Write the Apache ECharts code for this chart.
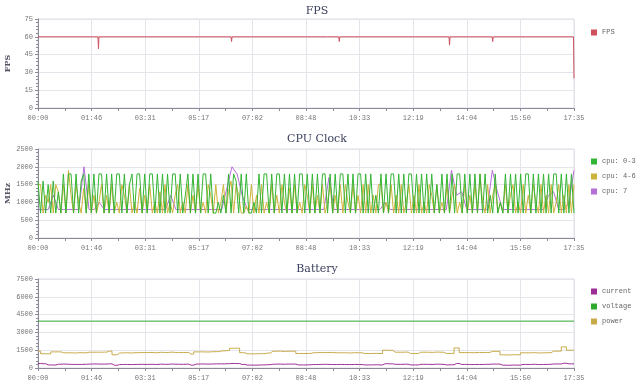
<!DOCTYPE html>
<html><head><meta charset="utf-8">
<script src="https://cdn.jsdelivr.net/npm/echarts@6/dist/echarts.min.js"></script>
<style>html,body{margin:0;padding:0;background:#fff}#c{width:640px;height:388px}</style>
</head><body><div id="c"></div>
<script>
// ---- data ----
const totalSeconds = 1055;
const tickLabels = ['00:00','01:46','03:31','05:17','07:02','08:48','10:33','12:19','14:04','15:50','17:35'];

const fpsTime = [0,118,119,120,380,381,382,570,571,572,592,593,594,809,810,811,894,895,896,1054,1055];
const fpsValues = [60,60,50,60,60,56,60,60,59,60,60,56,60,60,53,60,60,56,60,60,25];

const cpu03 = [
 1600,700,1600,700,1500,700,1600,700,1300,700,
 1800,700,1800,1800,700,1800,700,1600,1800,700,
 1800,700,1800,700,1800,1800,700,1800,700,1800,
 700,1800,1800,700,1800,700,1500,1800,700,1800,
 1800,700,1800,700,1800,1800,700,1800,700,1800,
 700,1800,700,1800,1800,700,1800,700,1200,1800,
 700,1800,700,1800,700,1800,1800,700,1800,700,
 700,1000,700,1200,700,1800,700,1800,1600,700,
 1800,700,1800,700,700,1000,700,1800,700,1800,
 1800,700,1800,700,1800,1800,700,1800,700,1800,
 700,1800,700,1800,1800,700,1800,700,1800,700,
 1800,700,1800,1800,700,1800,700,1800,700,1800,
 1800,700,1800,700,1800,700,1800,1800,700,1800,
 700,1800,700,1200,700,1800,700,1800,700,1800,
 1800,700,1800,700,1800,700,1800,1800,700,1800,
 700,1800,700,1800,700,1800,700,1500,700,1800,
 700,1800,700,1800,700,1800,1800,700,1800,700,
 1800,700,1800,700,1800,700,1800,700,1200,700,
 1800,700,1000,700,1800,700,1800,700,1800,700,
 1800,700,1800,1800,700,1800,700,1800,700,1800,
 700,1800,700,1800,1800,700,1800,700,1800,700,
 1800,700
];
const cpu46 = [
 1500,1500,700,1200,1000,1500,700,1500,1300,700,
 1500,700,1900,1200,700,1500,1000,700,1400,700,
 1500,700,1200,700,1000,1500,700,1200,700,1500,
 700,1000,700,1500,1200,700,1500,700,1000,700,
 1400,700,1200,700,1500,700,1000,700,1300,700,
 1500,700,1000,700,1200,1500,700,1000,700,1500,
 700,1200,700,1500,700,1000,700,1500,1200,700,
 1500,700,1000,1500,700,1300,1600,700,1500,1200,
 700,700,900,700,1500,700,1200,700,1500,700,
 1000,700,1500,700,1200,700,1500,1000,700,1400,
 700,1500,700,1000,700,1500,1200,700,1500,700,
 1200,700,1500,700,1000,1500,700,1200,700,1500,
 700,1500,1000,700,1500,700,1200,700,1500,700,
 1500,700,1200,700,1500,1500,700,1000,700,1500,
 700,1200,700,1500,700,1000,1500,700,1200,700,
 1500,700,1000,700,1500,1200,700,1500,700,1000,
 700,1500,700,1200,1500,700,1000,700,1500,700,
 1200,700,1500,700,1800,1000,700,1500,700,1200,
 1500,700,1000,700,1500,700,1200,1500,700,1000,
 700,1500,700,1200,700,1500,1000,700,1500,700,
 1200,700,1500,700,1000,1500,700,1200,700,1500,
 700,1500
];
const cpu7 = [
 800,800,800,1200,800,800,800,800,800,2000,
 800,800,1000,800,800,800,800,800,800,800,
 800,800,800,800,800,800,1200,800,800,800,
 800,800,800,800,800,800,800,1400,2000,1800,
 1200,800,800,800,800,800,800,800,800,800,
 800,800,800,800,800,800,800,1700,800,800,
 800,800,800,800,800,800,800,800,1000,800,
 800,800,800,800,800,800,800,800,800,800,
 800,1900,1200,1300,800,800,800,800,800,1900,
 1300,800,800,800,800,800,800,800,800,800,
 1200,1300,800,800,1000,1900
];

const batCurrent = [
 380,360,260,250,320,330,310,300,300,310,
 330,340,330,330,350,230,290,300,290,300,
 310,300,310,300,320,310,330,320,310,320,
 240,330,340,330,340,350,350,360,380,370,
 300,250,240,250,260,280,320,330,320,330,
 330,260,260,270,290,300,310,300,290,300,
 290,290,300,290,260,260,270,260,360,350,
 310,310,320,260,260,310,310,300,320,310,
 260,270,380,300,300,290,300,300,310,330,
 330,240,230,250,240,300,300,310,290,300,
 310,340,340,400,350,350
];
const batVoltage = [3950,3950,3950,3950,3950,3950,3950,3950,3950,3950,3950];
const batPower = [
 1420,1200,1190,1360,1360,1280,1280,1270,1290,1280,
 1330,1330,1330,1340,1420,1110,1270,1280,1270,1290,
 1300,1300,1310,1290,1320,1300,1330,1310,1300,1310,
 1170,1360,1360,1350,1370,1380,1440,1470,1660,1670,
 1290,1200,1190,1200,1210,1260,1410,1420,1400,1410,
 1420,1220,1220,1230,1290,1300,1300,1310,1290,1280,
 1280,1270,1290,1280,1220,1220,1230,1220,1500,1490,
 1330,1330,1340,1220,1220,1330,1330,1320,1340,1330,
 1220,1230,1690,1300,1300,1290,1310,1300,1310,1400,
 1400,1110,1100,1120,1110,1280,1280,1290,1270,1280,
 1290,1420,1420,1780,1500,1500
];

// ---- helpers ----
function spread(vals){ const n = vals.length; return vals.map((v,i)=>[i*totalSeconds/(n-1), v]); }
function fmt(v){ const k = Math.round(v/(totalSeconds/10)); return tickLabels[k] !== undefined ? tickLabels[k] : ''; }

const axisTxt = {fontSize:7, color:'#777', fontFamily:'Liberation Mono'};
const gridLine = {lineStyle:{color:'#e4e4ea', width:1}};
const tops = [19, 149, 279];
const grids = tops.map(t => ({left:38, right:66, top:t, height:89, show:true, borderColor:'#dcdce4', borderWidth:1,
  containLabel:false, outerBoundsMode:'none'}));

const xAxes = tops.map((t,i) => ({
  type:'value', gridIndex:i, min:0, max:totalSeconds, interval:totalSeconds/10,
  axisLine:{lineStyle:{color:'#8a8a99'}},
  axisTick:{length:3, lineStyle:{color:'#8a8a99'}},
  minorTick:{show:true, splitNumber:2, length:3, lineStyle:{color:'#8a8a99'}},
  axisLabel:Object.assign({formatter:fmt, margin:7}, axisTxt),
  splitLine:gridLine
}));
const yMax = [75, 2500, 7500], yInt = [15, 500, 1500], yNames = ['FPS','MHz',''];
const yAxes = tops.map((t,i) => ({
  type:'value', gridIndex:i, min:0, max:yMax[i], interval:yInt[i],
  name:yNames[i], nameLocation:'middle', nameGap:26, nameRotate:90, nameMoveOverlap:false,
  nameTextStyle:{fontSize:8, fontWeight:'bold', color:'#556', fontFamily:'DejaVu Serif'},
  axisLine:{show:true, lineStyle:{color:'#8a8a99'}},
  axisTick:{show:true, length:3, lineStyle:{color:'#8a8a99'}},
  minorTick:{show:true, splitNumber:5, length:2, lineStyle:{color:'#8a8a99'}},
  axisLabel:Object.assign({margin:5, formatter:(v)=>String(v)}, axisTxt),
  splitLine:gridLine
}));

const titleStyle = {fontSize:11, fontWeight:'normal', color:'#3a3f5c', fontFamily:'DejaVu Serif'};
const legendBase = {orient:'vertical', left:586, itemWidth:6, itemHeight:6, itemGap:8, icon:'rect',
  textStyle:{fontSize:7, color:'#666', fontFamily:'Liberation Mono'}};

const C = {fps:'#d0505e', g:'#34b534', y:'#cdb33a', p:'#b56fd6', cur:'#9c2f96', volt:'#2faa2f', pow:'#c8aa4a'};

function line(name, data, color, xi, extra){
  return Object.assign({name, type:'line', xAxisIndex:xi, yAxisIndex:xi, data, showSymbol:false, symbol:'none',
    lineStyle:{color, width:1}, itemStyle:{color}, animation:false}, extra||{});
}

const chart = echarts.init(document.getElementById('c'), null, {renderer:'canvas'});
chart.setOption({
  animation:false,
  backgroundColor:'#fff',
  title:[
    {text:'FPS', left:312, top:1, textAlign:'center', textStyle:titleStyle},
    {text:'CPU Clock', left:312, top:129, textAlign:'center', textStyle:titleStyle},
    {text:'Battery', left:312, top:259, textAlign:'center', textStyle:titleStyle}
  ],
  legend:[
    Object.assign({}, legendBase, {top:24, data:['FPS']}),
    Object.assign({}, legendBase, {top:153, data:['cpu: 0-3','cpu: 4-6','cpu: 7']}),
    Object.assign({}, legendBase, {top:283, data:['current','voltage','power']})
  ],
  grid:grids, xAxis:xAxes, yAxis:yAxes,
  series:[
    line('FPS', fpsTime.map((t,i)=>[t, fpsValues[i]]), C.fps, 0),
    line('cpu: 0-3', spread(cpu03), C.g, 1, {z:4}),
    line('cpu: 4-6', spread(cpu46), C.y, 1, {z:3}),
    line('cpu: 7', spread(cpu7), C.p, 1, {z:2}),
    line('current', spread(batCurrent), C.cur, 2, {step:'middle'}),
    line('voltage', spread(batVoltage), C.volt, 2),
    line('power', spread(batPower), C.pow, 2, {step:'middle'})
  ]
});
</script></body></html>
